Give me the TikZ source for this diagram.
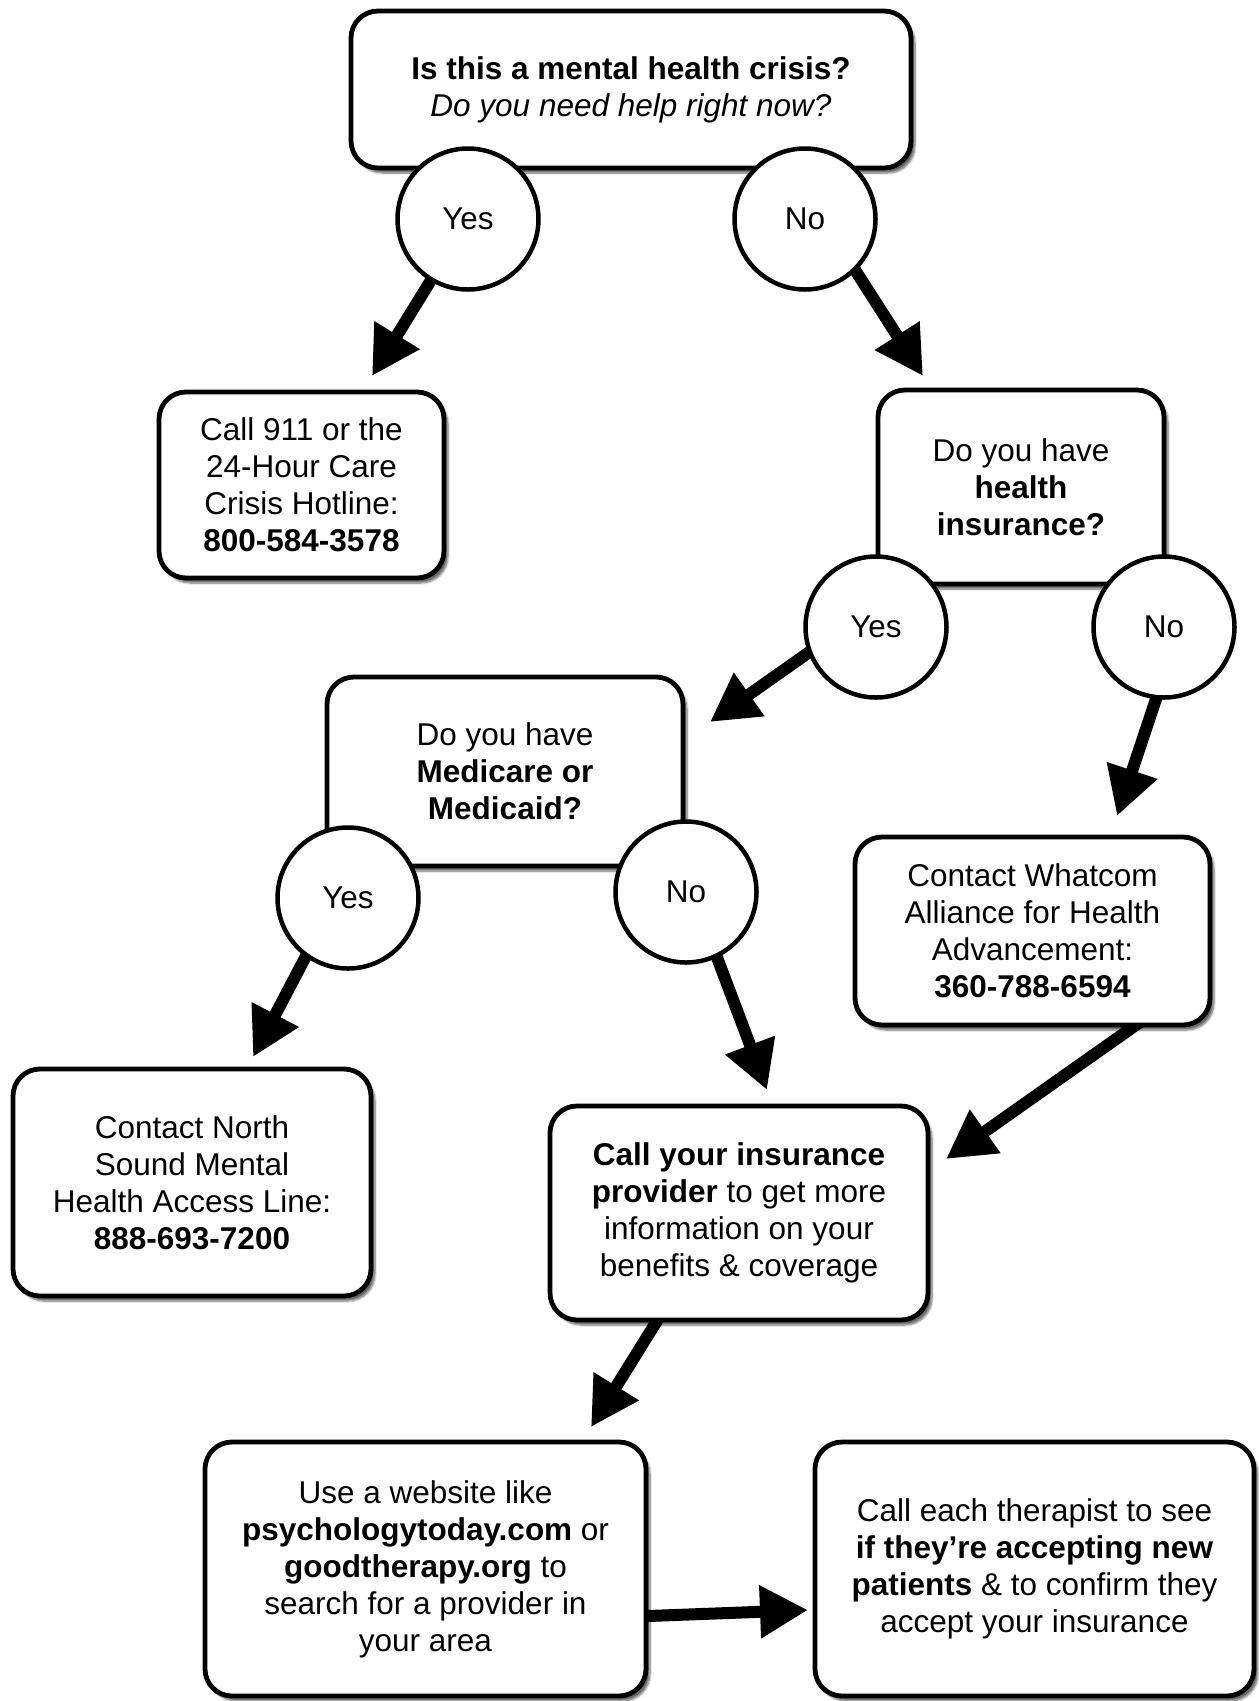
\documentclass[tikz,border=0pt]{standalone}
\usepackage{fontspec}
\setmainfont{Liberation Sans}
\usetikzlibrary{arrows.meta,shadows.blur,calc}
\pgfdeclarelayer{background}
\pgfsetlayers{background,main}
\begin{document}
\begin{tikzpicture}[x=1pt,y=-1pt,
  txt/.style={font=\fontsize{31.5}{37}\selectfont},
  box/.style={txt, draw, line width=4.8pt, rounded corners=27pt, fill=white, align=center, inner sep=0pt,
    blur shadow={shadow xshift=4pt, shadow yshift=-5pt, shadow blur steps=6, shadow opacity=60}},
  ans/.style={txt, circle, draw, line width=4.5pt, fill=white, minimum size=141pt, inner sep=0pt},
  arr/.style={line width=12pt, -{Triangle[length=48pt,width=50pt]}}]
\useasboundingbox (0,0) rectangle (1259,1701);

% boxes
\node[box, minimum width=560pt, minimum height=157pt] (crisis) at (631,89.5)
  {\textbf{Is this a mental health crisis?}\\\textit{Do you need help right now?}};
\node[box, minimum width=285pt, minimum height=186pt] (call911) at (301.5,485)
  {Call 911 or the\\24-Hour Care\\Crisis Hotline:\\\textbf{800-584-3578}};
\node[box, minimum width=286pt, minimum height=194pt] (health) at (1021,487)
  {Do you have\\\textbf{health}\\\textbf{insurance?}};
\node[box, minimum width=356pt, minimum height=189pt] (medicare) at (505,771.5)
  {Do you have\\\textbf{Medicare or}\\\textbf{Medicaid?}};
\node[box, minimum width=355pt, minimum height=188pt] (whatcom) at (1032.5,931)
  {Contact Whatcom\\Alliance for Health\\Advancement:\\\textbf{360-788-6594}};
\node[box, minimum width=358pt, minimum height=227pt] (north) at (192,1182.5)
  {Contact North\\Sound Mental\\Health Access Line:\\\textbf{888-693-7200}};
\node[box, minimum width=378pt, minimum height=214pt] (callins) at (739,1213)
  {\textbf{Call your insurance}\\\textbf{provider} to get more\\information on your\\benefits \& coverage};
\node[box, minimum width=441pt, minimum height=254pt] (website) at (425.5,1569)
  {Use a website like\\\textbf{psychologytoday.com} or\\\textbf{goodtherapy.org} to\\search for a provider in\\your area};
\node[box, minimum width=439pt, minimum height=254pt] (therapist) at (1034.5,1569)
  {Call each therapist to see\\\textbf{if they’re accepting new}\\\textbf{patients} \& to confirm they\\accept your insurance};

% answer circles
\node[ans] (yes1) at (468,219) {Yes};
\node[ans] (no1) at (805,219) {No};
\node[ans] (yes2) at (876,627) {Yes};
\node[ans] (no2) at (1164,627) {No};
\node[ans] (yes3) at (348,898) {Yes};
\node[ans] (no3) at (686,892) {No};

% arrow start points (on shapes) and tips
\coordinate (s1) at ($(yes1.center)+(-40,66)$);   \coordinate (t1) at (372,376);
\coordinate (s2) at ($(no1.center)+(52,54)$);     \coordinate (t2) at (923,376);
\coordinate (s3) at ($(yes2.center)+(-68,26)$);   \coordinate (t3) at (710,722);
\coordinate (s4) at ($(no2.center)+(-8,72)$);     \coordinate (t4) at (1117,816);
\coordinate (s5) at ($(yes3.center)+(-43,60)$);   \coordinate (t5) at (253,1057);
\coordinate (s6) at ($(no3.center)+(32,68)$);     \coordinate (t6) at (767,1090);
\coordinate (s7) at ($(whatcom.south)+(100,0)$);  \coordinate (t7) at (946,1159);
\coordinate (s8) at ($(callins.south)+(-83,0)$);  \coordinate (t8) at (591,1427);
\coordinate (s9) at ($(website.east)+(0,47)$);    \coordinate (t9) at (808,1610);

\begin{pgfonlayer}{background}
\foreach \i in {1,...,9}{
  \draw[arr] ($(s\i)!-20pt!(t\i)$) -- (t\i);
}
\end{pgfonlayer}
\end{tikzpicture}
\end{document}
